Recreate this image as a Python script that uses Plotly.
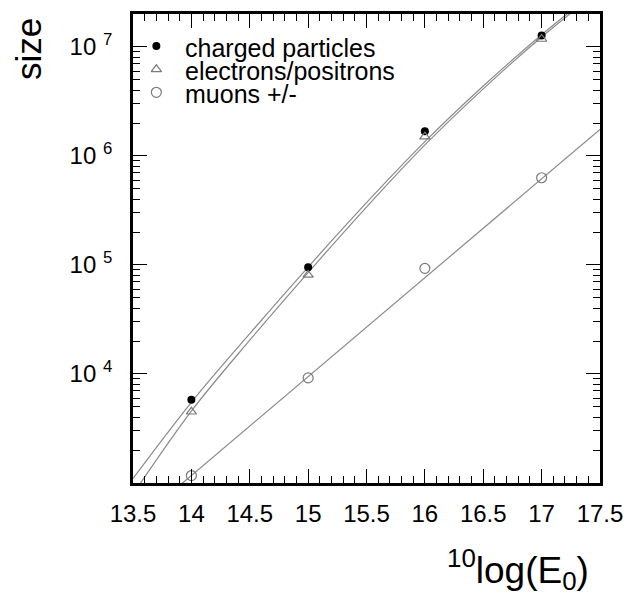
import plotly.graph_objects as go

# ---- data ----
energy = [14, 15, 16, 17]
charged = [5.8e3, 9.5e4, 1.68e6, 1.27e7]
electrons = [4.5e3, 8.1e4, 1.5e6, 1.18e7]
muons = [1.17e3, 9.2e3, 9.3e4, 6.3e5]

fit_x = [13.5, 14.0, 14.5, 15.0, 15.5, 16.0, 16.5, 17.0, 17.5]
charged_fit = [1.10e3, 5.5e3, 2.34e4, 9.55e4, 3.72e5, 1.35e6, 4.37e6, 1.29e7, 3.47e7]
electron_fit = [7.9e2, 4.57e3, 2.04e4, 8.5e4, 3.39e5, 1.26e6, 4.12e6, 1.23e7, 3.31e7]
muon_fit_x = [13.9, 17.5]
muon_fit = [9.5e2, 1.75e6]

legend_labels = ["charged particles", "electrons/positrons", "muons +/-"]
x_ticks = [13.5, 14, 14.5, 15, 15.5, 16, 16.5, 17, 17.5]
x_ticktext = ["13.5", "14", "14.5", "15", "15.5", "16", "16.5", "17", "17.5"]
y_ticks = [1e4, 1e5, 1e6, 1e7]
y_ticktext = ["10 <sup>4</sup>", "10 <sup>5</sup>", "10 <sup>6</sup>", "10 <sup>7</sup>"]
y_minor = [m * 10 ** k for k in range(3, 8) for m in range(2, 10)]

FONT = "Liberation Sans, Arial, sans-serif"
LINE_C = "#8a8a8a"
MARK_C = "#7a7a7a"

fig = go.Figure()

# fit curves
fig.add_trace(go.Scatter(x=fit_x, y=charged_fit, mode="lines",
                         line=dict(color=LINE_C, width=1.2, shape="spline"), showlegend=False))
fig.add_trace(go.Scatter(x=fit_x, y=electron_fit, mode="lines",
                         line=dict(color=LINE_C, width=1.2, shape="spline"), showlegend=False))
fig.add_trace(go.Scatter(x=muon_fit_x, y=muon_fit, mode="lines",
                         line=dict(color=LINE_C, width=1.2), showlegend=False))

# data points
fig.add_trace(go.Scatter(x=energy, y=charged, mode="markers",
                         marker=dict(symbol="circle", size=8, color="black"), showlegend=False))
fig.add_trace(go.Scatter(x=energy, y=electrons, mode="markers",
                         marker=dict(symbol="triangle-up-open", size=9, color=MARK_C,
                                     line=dict(width=1.2)), showlegend=False))
fig.add_trace(go.Scatter(x=energy, y=muons, mode="markers",
                         marker=dict(symbol="circle-open", size=10, color=MARK_C,
                                     line=dict(width=1.2)), showlegend=False))

# legend symbols on an overlay axis (0..1 box)
leg_x = [0.05, 0.05, 0.05]
leg_y = [0.932, 0.882, 0.833]
leg_styles = [
    dict(symbol="circle", size=8, color="black"),
    dict(symbol="triangle-up-open", size=9, color=MARK_C, line=dict(width=1.2)),
    dict(symbol="circle-open", size=10, color=MARK_C, line=dict(width=1.2)),
]
for i in range(3):
    fig.add_trace(go.Scatter(x=[leg_x[i]], y=[leg_y[i]], mode="markers", marker=leg_styles[i],
                             xaxis="x2", yaxis="y2", showlegend=False))
    fig.add_annotation(text=legend_labels[i], xref="paper", yref="paper",
                       x=0.108, y=leg_y[i] - 0.004, xanchor="left", yanchor="middle",
                       showarrow=False, font=dict(family=FONT, size=25, color="black"))

axis_common = dict(showline=True, linecolor="black", linewidth=2.8, mirror="allticks",
                   ticks="inside", tickcolor="black", ticklen=14, tickwidth=1,
                   showgrid=False, zeroline=False,
                   tickfont=dict(family=FONT, size=24, color="black"))

fig.update_layout(
    width=634, height=594,
    margin=dict(l=133, r=27, t=11, b=111),
    plot_bgcolor="white", paper_bgcolor="white",
    xaxis=dict(range=[13.4999, 17.5001], tickmode="array", tickvals=x_ticks, ticktext=x_ticktext,
               ticklabelstandoff=7,
               minor=dict(dtick=0.1, tick0=13.5, ticks="inside", ticklen=7, tickcolor="black", tickwidth=1),
               **axis_common),
    yaxis=dict(type="log", range=[3, 7.301], tickmode="array", tickvals=y_ticks, ticktext=y_ticktext,
               ticklabelstandoff=13,
               minor=dict(tickmode="array", tickvals=y_minor, ticks="inside", ticklen=7,
                          tickcolor="black", tickwidth=1),
               **axis_common),
    xaxis2=dict(overlaying="x", range=[0, 1], visible=False),
    yaxis2=dict(overlaying="y", range=[0, 1], visible=False),
)

fig.add_annotation(text="size", xref="paper", yref="paper", x=-0.225, y=0.925,
                   xanchor="center", yanchor="middle", textangle=-90, showarrow=False,
                   font=dict(family=FONT, size=35, color="black"))
fig.add_annotation(text="<sup>10</sup>log(E<sub>0</sub>)", xref="paper", yref="paper",
                   x=0.98, y=-0.185, xanchor="right", yanchor="middle", showarrow=False,
                   font=dict(family=FONT, size=37, color="black"))

fig.write_html("out.html")
